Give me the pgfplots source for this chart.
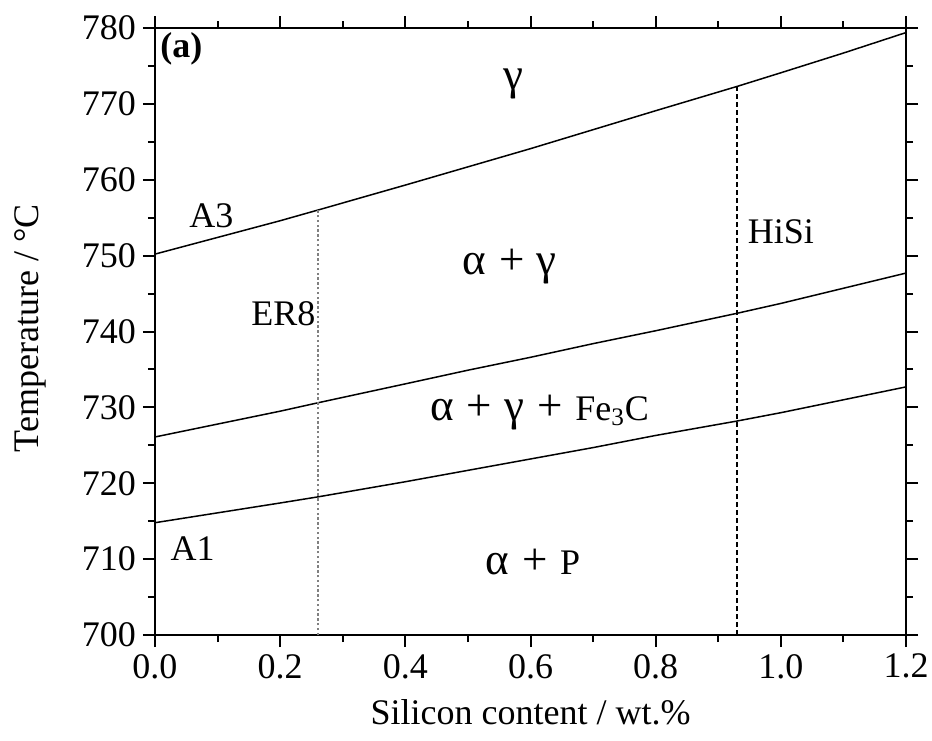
\documentclass[border=0pt]{standalone}
\usepackage{fontspec}
\setmainfont{Liberation Serif}
\usepackage{pgfplots}
\pgfplotsset{compat=1.18}
\newcommand{\fs}{\fontsize{18}{21}\selectfont}
\newcommand{\gr}[1]{{\fontsize{22.5}{22}\selectfont #1}}
\newcommand{\pl}{\hspace{0.35em}\gr{+}\hspace{0.35em}}
\begin{document}
\begin{tikzpicture}
\useasboundingbox (-77.5pt,-52.5pt) rectangle (388.5pt,317.5pt);
\begin{axis}[
  at={(0,0)}, anchor=south west,
  scale only axis, width=375.5pt, height=303.5pt,
  xmin=0, xmax=1.2, ymin=700, ymax=780,
  xtick={0,0.2,...,1.2}, ytick={700,710,...,780},
  minor xtick={0.1,0.3,...,1.1}, minor ytick={705,715,...,775},
  xticklabel style={/pgf/number format/.cd, fixed, fixed zerofill, precision=1},
  /pgf/number format/assume math mode=true,
  tick align=outside,
  major tick length=6pt, minor tick length=3.5pt,
  every tick/.style={black, line width=1pt},
  axis line style={line width=1.25pt},
  tick label style={font=\fs},
  label style={font=\fs},
  xlabel={Silicon content / wt.\%},
  ylabel={Temperature / °C},
  x label style={at={(axis description cs:0.5,-0.128)}, anchor=center},
  y label style={at={(axis description cs:-0.166,0.505)}, anchor=center},
  clip=false,
]
% A3
\addplot[black, line width=0.75pt] coordinates {
(0,750.2) (0.1,752.4) (0.2,754.6) (0.26,756.0) (0.4,759.3) (0.5,761.7)
(0.6,764.1) (0.7,766.6) (0.8,769.1) (0.93,772.3) (1.0,774.1) (1.1,776.7) (1.2,779.4)};
% middle
\addplot[black, line width=0.75pt] coordinates {
(0,726.1) (0.1,727.8) (0.2,729.5) (0.26,730.6) (0.4,733.1) (0.5,734.9)
(0.6,736.6) (0.7,738.4) (0.8,740.1) (0.93,742.4) (1.0,743.7) (1.1,745.7) (1.2,747.7)};
% A1
\addplot[black, line width=0.75pt] coordinates {
(0,714.8) (0.1,716.1) (0.2,717.4) (0.26,718.2) (0.4,720.2) (0.5,721.7)
(0.6,723.2) (0.7,724.7) (0.8,726.3) (0.93,728.2) (1.0,729.3) (1.1,731.0) (1.2,732.7)};
% vertical lines
\addplot[gray, line width=0.8pt, dash pattern=on 1.2pt off 1.2pt] coordinates {(0.26,700) (0.26,756.0)};
\addplot[black, line width=0.6pt, dash pattern=on 2.5pt off 1.5pt] coordinates {(0.93,700) (0.93,772.3)};
% labels
\node[font=\fs\bfseries, anchor=west, inner sep=0pt] at (axis cs:0.008,777.3) {(a)};
\node[font=\fs] at (axis cs:0.572,772.6) {\gr{γ}};
\node[font=\fs] at (axis cs:0.09,755.2) {A3};
\node[font=\fs] at (axis cs:0.205,742.4) {ER8};
\node[font=\fs] at (axis cs:0.567,748.5) {\gr{α}\pl\gr{γ}};
\node[font=\fs] at (axis cs:1.0,753.2) {HiSi};
\node[font=\fs] at (axis cs:0.615,729.3) {\gr{α}\pl\gr{γ}\pl Fe\textsubscript{3}C};
\node[font=\fs] at (axis cs:0.06,711.4) {A1};
\node[font=\fs] at (axis cs:0.604,709.6) {\gr{α}\pl P};
\end{axis}
\end{tikzpicture}
\end{document}
